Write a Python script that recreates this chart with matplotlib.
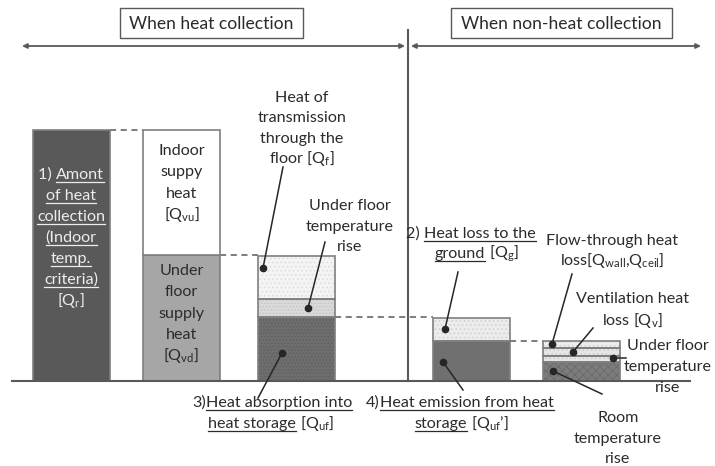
import matplotlib
matplotlib.use("Agg")
import matplotlib.pyplot as plt
import numpy as np

plt.rcParams['font.family'] = ['Lato', 'DejaVu Sans']
plt.rcParams['mathtext.fontset'] = 'custom'
plt.rcParams['mathtext.rm'] = 'Lato'
plt.rcParams['mathtext.it'] = 'Lato'
plt.rcParams['hatch.linewidth'] = 0.6

# ---------------- data (heights in diagram units above the floor line) -------------
bar_names = ["Qr", "Qv", "Qf", "Qg", "Qloss"]
bar_centers = [71.5, 181.5, 296, 471.5, 581]
bar_width = 77

# segment heights, bottom -> top
seg_qr = [251]                      # amount of heat collection
seg_qv = [126, 125]                 # under floor supply, indoor supply
seg_qf = [64, 18, 43]               # absorption, under floor rise, transmission
seg_qg = [40, 23]                   # emission from storage, loss to ground
seg_loss = [19, 6, 8, 7]            # room rise, under floor rise, ventilation, flow-through

BASE = 381  # pixel row of the floor line
def Y(p):
    return BASE - p

fig = plt.figure(figsize=(7.15, 4.66), dpi=100)
ax = fig.add_axes([0, 0, 1, 1])
ax.set_xlim(0, 715)
ax.set_ylim(Y(466), Y(0))
ax.axis('off')

EDGE = '#7f7f7f'
TXT = '#2b2b2b'
LINE = '#595959'

def stack(xc, segs, faces, hatches, hcols):
    bottom = 0
    for h, fc, ht, hc in zip(segs, faces, hatches, hcols):
        if ht:
            ax.bar(xc, h, bar_width, bottom=bottom, color=fc, edgecolor=hc,
                   hatch=ht, linewidth=0, zorder=2)
            ax.bar(xc, h, bar_width, bottom=bottom, color='none', edgecolor=EDGE,
                   linewidth=1.2, zorder=3)
        else:
            ax.bar(xc, h, bar_width, bottom=bottom, color=fc, edgecolor=EDGE,
                   linewidth=1.2, zorder=3)
        bottom += h
    return np.cumsum(segs)

c1 = stack(bar_centers[0], seg_qr, ['#595959'], [None], [None])
c2 = stack(bar_centers[1], seg_qv, ['#a6a6a6', '#ffffff'], [None, None], [None, None])
c3 = stack(bar_centers[2], seg_qf, ['#6e6e6e', '#d9d9d9', '#f4f4f4'],
           ['.....', '.....', '....'], ['#5e5e5e', '#c4c4c4', '#dcdcdc'])
c4 = stack(bar_centers[3], seg_qg, ['#707070', '#ececec'],
           [None, '....'], [None, '#cfcfcf'])
c5 = stack(bar_centers[4], seg_loss, ['#7c7c7c', '#e6e6e6', '#e6e6e6', '#ececec'],
           ['xxxx', '....', '....', '....'], ['#6a6a6a', '#cccccc', '#cccccc', '#d0d0d0'])

hw = bar_width / 2
# dashed connectors between bars
def dash(x0, x1, y):
    ax.plot([x0, x1], [y, y], ls=(0, (4, 3)), color=LINE, lw=1.1, zorder=1)
dash(bar_centers[0] + hw, bar_centers[1] - hw, c1[-1])
dash(bar_centers[1] + hw, bar_centers[2] - hw, c2[0])
dash(bar_centers[2] + hw, bar_centers[3] - hw, c3[0])
dash(bar_centers[3] + hw, bar_centers[4] - hw, c4[0])

# floor line and divider
ax.plot([12, 690], [0, 0], color=LINE, lw=1.5, zorder=4)
ax.plot([408, 408], [Y(30), 0], color=LINE, lw=1.5, zorder=4)

# top arrows
ap = dict(arrowstyle='<|-|>', color=LINE, lw=1.3, mutation_scale=7, shrinkA=0, shrinkB=0)
ax.annotate('', xy=(22, Y(46)), xytext=(405, Y(46)), arrowprops=ap)
ax.annotate('', xy=(411, Y(46)), xytext=(701, Y(46)), arrowprops=ap)

FS = 11.6
renderer = fig.canvas.get_renderer()

def rich(xc, yb, segments, color=TXT, size=FS, ha='center'):
    """segments: list of (text, underline). yb: baseline pixel row."""
    objs = []
    widths = []
    for s, u in segments:
        t = ax.text(0, 0, s, fontsize=size, color=color, va='baseline', ha='left', zorder=6)
        bb = t.get_window_extent(renderer)
        objs.append(t)
        widths.append(bb.width)
    total = sum(widths)
    if ha == 'center':
        x = xc - total / 2
    elif ha == 'right':
        x = xc - total
    else:
        x = xc
    for (s, u), t, w in zip(segments, objs, widths):
        t.set_position((x, Y(yb)))
        if u:
            ax.plot([x, x + w], [Y(yb + 2.5), Y(yb + 2.5)], color=color, lw=0.9, zorder=6)
        x += w
    return total

def boxed(xc, yb, s, x0, x1, y0, y1):
    ax.add_patch(plt.Rectangle((x0, Y(y1)), x1 - x0, y1 - y0, facecolor='white',
                               edgecolor=LINE, lw=1.0, zorder=5))
    rich(xc, yb, [(s, False)], size=12.6)

boxed(211, 29, 'When heat collection', 120, 303, 8, 38)
boxed(561, 29, 'When non-heat collection', 451, 672, 8, 38)

# Bar 1 text
W = '#ededed'
rich(71, 179, [('1) ', False), ('Amont', True)], color=W)
rich(71, 200, [('of heat', True)], color=W)
rich(71, 221, [('collection', True)], color=W)
rich(71, 242, [('(Indoor', True)], color=W)
rich(71, 263, [('temp.', True)], color=W)
rich(71, 284, [('criteria)', True)], color=W)
rich(71, 305, [(r'[Q$_{\mathrm{r}}$]', False)], color=W)

# Bar 2 text
for i, s in enumerate(['Indoor', 'suppy', 'heat', r'[Q$_{\mathrm{vu}}$]']):
    rich(181.5, 155 + 21.3 * i, [(s, False)])
for i, s in enumerate(['Under', 'floor', 'supply', 'heat', r'[Q$_{\mathrm{vd}}$]']):
    rich(181.5, 275 + 21.3 * i, [(s, False)])

# Bar 3 labels
for i, s in enumerate(['Heat of', 'transmission', 'through the', r'floor [Q$_{\mathrm{f}}$]']):
    rich(302, 102 + 20.3 * i, [(s, False)])
for i, s in enumerate(['Under floor', 'temperature', 'rise']):
    rich(350, 210 + 20.5 * i, [(s, False)])

rich(272, 407, [('3)', False), ('Heat absorption into', True)])
rich(271, 428, [('heat storage', True), (r' [Q$_{\mathrm{uf}}$]', False)])

rich(460, 407, [('4)', False), ('Heat emission from heat', True)])
rich(462, 428, [('storage', True), (r' [Q$_{\mathrm{uf}}$’]', False)])

rich(471, 238, [('2) ', False), ('Heat loss to the', True)])
rich(477, 258, [('ground', True), (r' [Q$_{\mathrm{g}}$]', False)])

rich(612, 245, [('Flow-through heat', False)])
rich(612, 265, [(r'loss[Q$_{\mathrm{wall}}$,Q$_{\mathrm{ceil}}$]', False)])
rich(632, 303, [('Ventilation heat', False)])
rich(632, 325, [(r'loss [Q$_{\mathrm{v}}$]', False)])
for i, s in enumerate(['Under floor', 'temperature', 'rise']):
    rich(668, 350 + 21 * i, [(s, False)])
for i, s in enumerate(['Room', 'temperature', 'rise']):
    rich(618, 422 + 20.5 * i, [(s, False)])

# leader lines with dots
def leader(p_dot, p_end):
    ax.plot([p_dot[0], p_end[0]], [Y(p_dot[1]), Y(p_end[1])], color='#262626', lw=1.1, zorder=7)
    ax.plot(p_dot[0], Y(p_dot[1]), 'o', color='#262626', ms=4.5, zorder=8)

leader((263, 268), (283, 167))
leader((308, 308), (325, 242))
leader((282, 353), (258, 398))
leader((445, 329), (458, 272))
leader((443, 362), (463, 390))
leader((552, 344), (572, 274))
leader((573, 352), (593, 328))
leader((613, 358), (626, 358))
leader((553, 371), (602, 394))

fig.savefig('out.png', dpi=100)
